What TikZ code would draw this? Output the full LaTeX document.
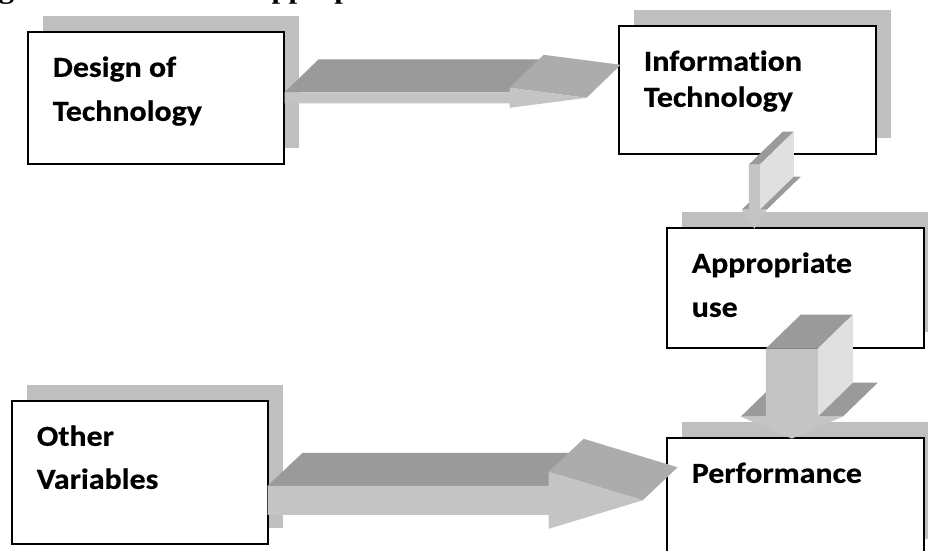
\documentclass[tikz,border=0pt]{standalone}
\usepackage{fontspec}
\newfontfamily\boxfont{Carlito}[FakeStretch=1.1, Ligatures=NoCommon,
  BoldFeatures={FakeBold=0.6}]
\newfontfamily\captionfont{Liberation Serif}[FakeStretch=1.14]
\usetikzlibrary{shadows,calc}

\definecolor{shadowgray}{HTML}{BFBFBF}
\definecolor{arrfront}{HTML}{C4C4C4}
\definecolor{arrtop}{HTML}{9A9A9A}
\definecolor{arrhead}{HTML}{ACACAC}
\definecolor{arrside}{HTML}{E0E0E0}

% box contents: width, height, line spacing, lines
\newcommand\boxlabel[4]{\parbox[c][#2][t]{#1}{\baselineskip=#3\relax\leftskip=25pt\relax\rule{0pt}{45pt}#4}}

% right-pointing 3D block arrow
% #1 start (shaft front, mid-height), #2 shaft length, #3 shaft half-height,
% #4 head length, #5 head half-height, #6/#7 depth vector
\newcommand\hblock[7]{%
  \fill[arrtop] (#1) ++(0,-#3) -- ++(#2,0) -- ++(#6,#7) -- ++(-#2,0) -- cycle;
  \fill[arrhead] (#1) ++(#2,-#5) -- ++(#4,#5) -- ++(#6,#7) -- ++(-#4,-#5) -- cycle;
  \fill[arrfront] (#1) ++(0,-#3) -- ++(#2,0) -- ++(0,#3-#5) -- ++(#4,#5)
    -- ++(-#4,#5) -- ++(0,#3-#5) -- ++(-#2,0) -- cycle;
}
% down-pointing 3D block arrow
% #1 start (shaft front, top centre), #2 shaft length, #3 shaft half-width,
% #4 head length, #5 head half-width, #6/#7 depth vector
\newcommand\vblock[7]{%
  \fill[arrtop] (#1) ++(-#5,#2) -- ++(2*#5,0) -- ++(#6,#7) -- ++(-2*#5,0) -- cycle;
  \fill[arrtop] (#1) ++(-#3,0) -- ++(2*#3,0) -- ++(#6,#7) -- ++(-2*#3,0) -- cycle;
  \fill[arrside] (#1) ++(#3,0) -- ++(0,#2) -- ++(#6,#7) -- ++(0,-#2) -- cycle;
  \fill[arrfront] (#1) ++(-#3,0) -- ++(2*#3,0) -- ++(0,#2) -- ++(#5-#3,0)
    -- ++(-#5,#4) -- ++(-#5,-#4) -- ++(#5-#3,0) -- cycle;
}

\tikzset{
  box/.style={draw, line width=1.6pt, fill=white, rectangle, inner sep=0pt,
    anchor=north west, font=\boxfont\bfseries\fontsize{29}{36}\selectfont,
    general shadow={fill=shadowgray, shadow xshift=15pt, shadow yshift=16pt}},
}

\begin{document}
\begin{tikzpicture}[x=1pt, y=-1pt]
\useasboundingbox (0,0) rectangle (928,550);
\fill[white] (0,0) rectangle (928,550);
\clip (0,0) rectangle (928,550);

% caption line above the figure
\node[anchor=base west, inner sep=0pt,
  font=\captionfont\bfseries\fontsize{27}{30}\selectfont] (title) at (-29,-2)
  {Figure 2.1: Model of Appropriate Use};

% boxes
\node[box] (d) at (27,31)  {\boxlabel{256pt}{132pt}{44pt}{Design of\\Technology}};
\node[box] (i) at (618,25) {\boxlabel{257pt}{128pt}{36pt}{Information\\Technology}};
\node[box] (a) at (666,227){\boxlabel{257pt}{120pt}{44pt}{Appropriate\\use}};
\node[box] (o) at (11,400) {\boxlabel{256pt}{143pt}{43pt}{Other\\Variables}};
\node[box] (p) at (666,437){\boxlabel{257pt}{117pt}{44pt}{Performance}};

% arrow start points
\coordinate (a1s) at (d.east);
\coordinate (a2s) at ($(o.east)+(-1,28)$);
\coordinate (a3s) at ($(i.south)+(7,10)$);
\coordinate (a4s) at ($(a.south)+(-3.5,0)$);

% connectors
\hblock{a1s}{225}{5.5}{77}{10}{34}{-33}
\hblock{a2s}{281}{14.5}{94}{28.5}{35}{-33}
\vblock{a3s}{45}{5.5}{19}{12.5}{34}{-33}
\vblock{a4s}{68}{26}{22}{51}{35}{-34}
\end{tikzpicture}
\end{document}
